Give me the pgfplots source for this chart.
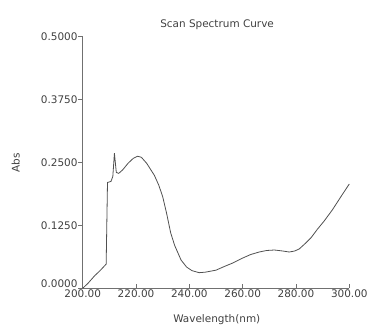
\documentclass[border=0pt]{standalone}
\usepackage{pgfplots}
\pgfplotsset{compat=1.18}
\usepackage{fontspec}
\setmainfont{DejaVu Sans}
\definecolor{axgray}{HTML}{707070}
\definecolor{txtgray}{HTML}{404040}
\definecolor{curvegray}{HTML}{505050}
\begin{document}
\begin{tikzpicture}
\path[use as bounding box] (0bp,0bp) rectangle (372bp,327bp);
\begin{axis}[
  at={(82.7bp,38.7bp)}, anchor=south west,
  scale only axis, width=266.6bp, height=252bp,
  xmin=200, xmax=300, ymin=0, ymax=0.5,
  axis x line*=bottom, axis y line*=left,
  axis line style={axgray, line width=0.9pt, -},
  xtick={200,220,...,300},
  ytick={0.125,0.25,0.375,0.5},
  extra y ticks={0},
  extra y tick style={yticklabel style={yshift=5bp}},
  xticklabel style={/pgf/number format/fixed, /pgf/number format/fixed zerofill, /pgf/number format/precision=2, inner sep=1bp},
  yticklabel style={/pgf/number format/fixed, /pgf/number format/fixed zerofill, /pgf/number format/precision=4, inner sep=0.5bp},
  /pgf/number format/assume math mode=true,
  xtick align=inside, ytick align=outside,
  major tick length=4.5bp,
  tick style={axgray, line width=0.9pt},
  tick label style={font=\fontsize{10.5}{12}\selectfont, text=txtgray},
  title={Scan Spectrum Curve},
  title style={font=\fontsize{10.5}{12}\selectfont, text=txtgray, at={(rel axis cs:0.504,1)}, anchor=center, yshift=6bp},
  xlabel={Wavelength(nm)},
  label style={font=\fontsize{10.5}{12}\selectfont, text=txtgray},
  xlabel style={at={(axis description cs:0.503,0)}, anchor=center, yshift=-31.7bp},
  clip=false,
]
\addplot[curvegray, line width=0.8pt] coordinates {
(200,0) (202,0.010) (204.5,0.025) (206.5,0.035) (208.8,0.048) (209.3,0.210)
(210.6,0.212) (211.3,0.222) (211.9,0.268) (212.6,0.230) (213.5,0.228)
(215,0.235) (217,0.248) (219,0.258) (220.6,0.262) (222,0.260) (224,0.248)
(226.9,0.224) (228.5,0.205) (230,0.182) (231.5,0.148) (233,0.110) (234.5,0.085)
(236.9,0.056) (239,0.042) (241,0.035) (243.7,0.031) (246,0.032) (250,0.036)
(253,0.043) (256.2,0.050) (260,0.060) (263,0.067) (266.2,0.072) (269,0.075)
(271.9,0.076) (275,0.074) (277.5,0.072) (279.5,0.074) (281.2,0.078)
(283.7,0.090) (285.6,0.100) (288,0.117) (290.5,0.133) (293.7,0.156)
(297,0.183) (300,0.207)
};
\end{axis}
\node[rotate=90, anchor=center, font=\fontsize{10.5}{12}\selectfont, text=txtgray] at (15.7bp,164bp) {Abs};
\end{tikzpicture}
\end{document}
